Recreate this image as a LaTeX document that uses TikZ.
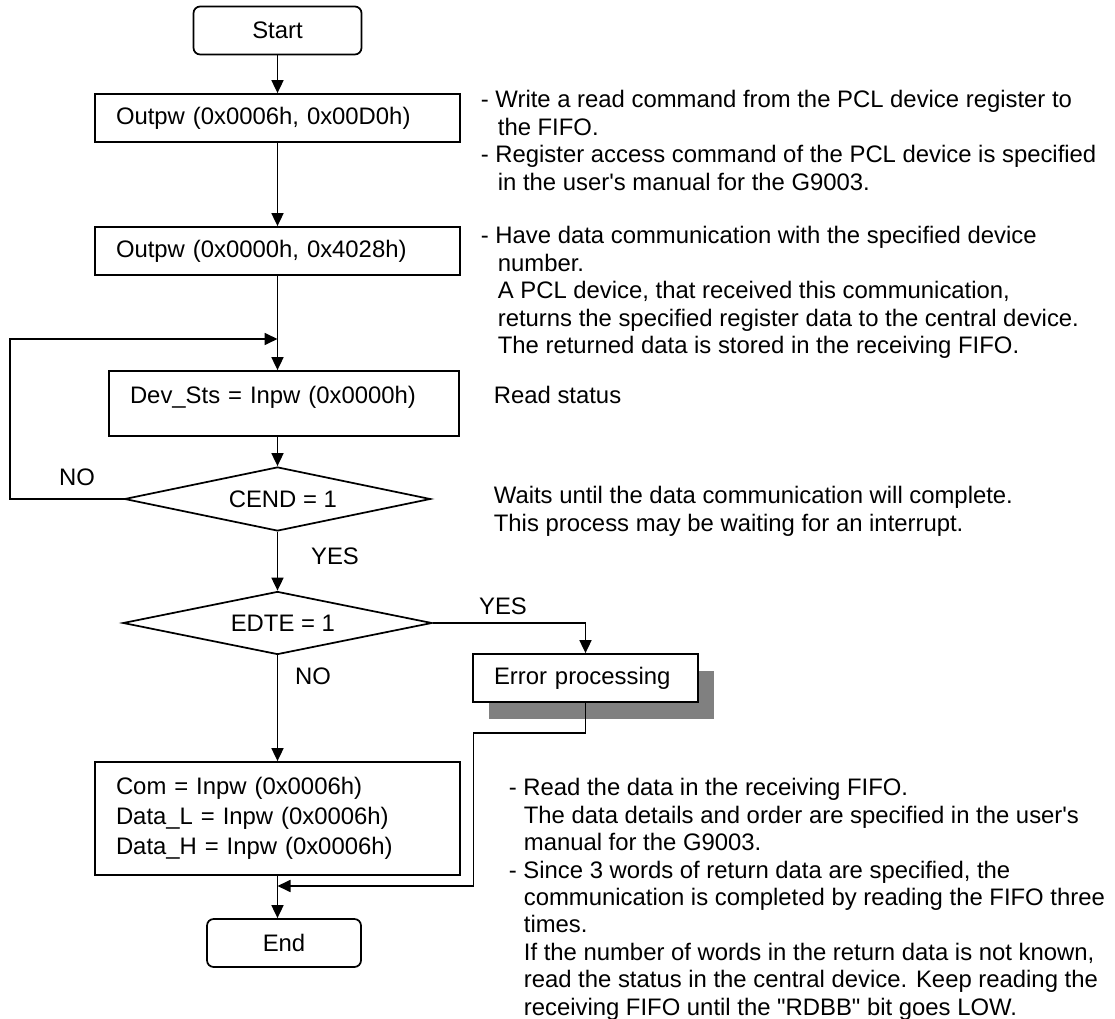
\documentclass[tikz,border=0pt]{standalone}
\usepackage{fontspec}
\setmainfont{Liberation Sans}
\usetikzlibrary{positioning, shapes.geometric, arrows.meta, shadows}

\begin{document}
\begin{tikzpicture}[x=0.75pt, y=-0.75pt, line width=1.3pt,
    every node/.style={font=\fontsize{17.9}{20.6}\selectfont},
    >={Triangle[length=9.75pt, width=9pt]},
    term/.style={draw, rounded corners=5pt, minimum height=36pt, inner sep=0pt},
    box/.style={draw, fill=white, inner xsep=15.75pt, inner ysep=0pt, align=left},
    decide/.style={draw, diamond, inner sep=0pt},
    note/.style={anchor=north west, inner sep=0pt, align=left}]
  \useasboundingbox (0,0) rectangle (1115,1019);

  % flow column
  \node[term, minimum width=126pt] (start) at (277.5,30.5) {Start};
  \node[box, text width=242.25pt, minimum height=36pt] (outa) at (277.5,118) {Outpw (0x0006h, 0x00D0h)};
  \node[box, text width=242.25pt, minimum height=36pt] (outb) at (277.5,251) {Outpw (0x0000h, 0x4028h)};
  \node[box, text width=231pt, text depth=13.5pt, minimum height=48.75pt] (stat) at (284,403.5) {Dev\_Sts = Inpw (0x0000h)};
  \node[decide, aspect=4.78, minimum width=229.5pt, minimum height=48pt] (cend) at (277.5,499) {\hspace*{8pt}CEND = 1};
  \node[decide, aspect=4.9, minimum width=231.75pt, minimum height=47.25pt] (edte) at (277.5,623) {\hspace*{8pt}EDTE = 1};
  \node[box, text width=137.25pt, minimum height=36pt,
        drop shadow={shadow xshift=12pt, shadow yshift=-12.75pt, fill=black!50, opacity=1}] (err) at (585.5,678) {Error processing};
  \node[box, text width=242.25pt, minimum height=84.75pt, font=\fontsize{17.9}{22.5}\selectfont] (rd) at (277.5,818.5)
    {Com = Inpw (0x0006h)\\Data\_L = Inpw (0x0006h)\\Data\_H = Inpw (0x0006h)};
  \node[term, minimum width=115.5pt] (fin) at (284,943) {End};

  \coordinate (loopin) at (277.5,339);
  \coordinate (errin) at (277.5,886);

  % branch labels
  \node (noa) at (77,477) {NO};
  \node (yesa) at (335,556) {YES};
  \node (yesb) at (503,606) {YES};
  \node (nob) at (313,676) {NO};

  % connectors
  \draw[->] (start) -- (outa);
  \draw[->] (outa) -- (outb);
  \draw[->] (outb) -- (outb.south |- stat.north);
  \draw[->] (outb.south |- stat.south) -- (cend);
  \draw[->] (cend.west) -- ++(-114,0) |- (loopin);
  \draw[->] (cend) -- (edte);
  \draw[->] (edte.east) -| (err.north);
  \draw[->] (edte) -- (rd);
  \draw[->] (rd.south) -- (rd.south |- fin.north);
  \draw[->] (err.south) -- ++(0,30) -- ++(-112,0) |- (errin);

  % notes
  \node[note] (nta) at (480,89.5) {- Write a read command from the PCL device register to\\
    \hspace*{12.75pt}the FIFO.\\
    - Register access command of the PCL device is specified\\
    \hspace*{12.75pt}in the user\textquotesingle{}s manual for the G9003.};
  \node[note] (ntb) at (480,225.5) {- Have data communication with the specified device\\
    \hspace*{12.75pt}number.\\
    \hspace*{12.75pt}A PCL device, that received this communication,\\
    \hspace*{12.75pt}returns the specified register data to the central device.\\
    \hspace*{12.75pt}The returned data is stored in the receiving FIFO.};
  \node[note] (ntc) at (493,385.5) {Read status};
  \node[note] (ntd) at (493,485.5) {Waits until the data communication will complete.\\
    This process may be waiting for an interrupt.};
  \node[note] (nte) at (508,777.5) {- Read the data in the receiving FIFO.\\
    \hspace*{11.25pt}The data details and order are specified in the user\textquotesingle{}s\\
    \hspace*{11.25pt}manual for the G9003.\\
    - Since 3 words of return data are specified, the\\
    \hspace*{11.25pt}communication is completed by reading the FIFO three\\
    \hspace*{11.25pt}times.\\
    \hspace*{11.25pt}If the number of words in the return data is not known,\\
    \hspace*{11.25pt}read the status in the central device. Keep reading the\\
    \hspace*{11.25pt}receiving FIFO until the \textquotedbl RDBB\textquotedbl{} bit goes LOW.};
\end{tikzpicture}
\end{document}
